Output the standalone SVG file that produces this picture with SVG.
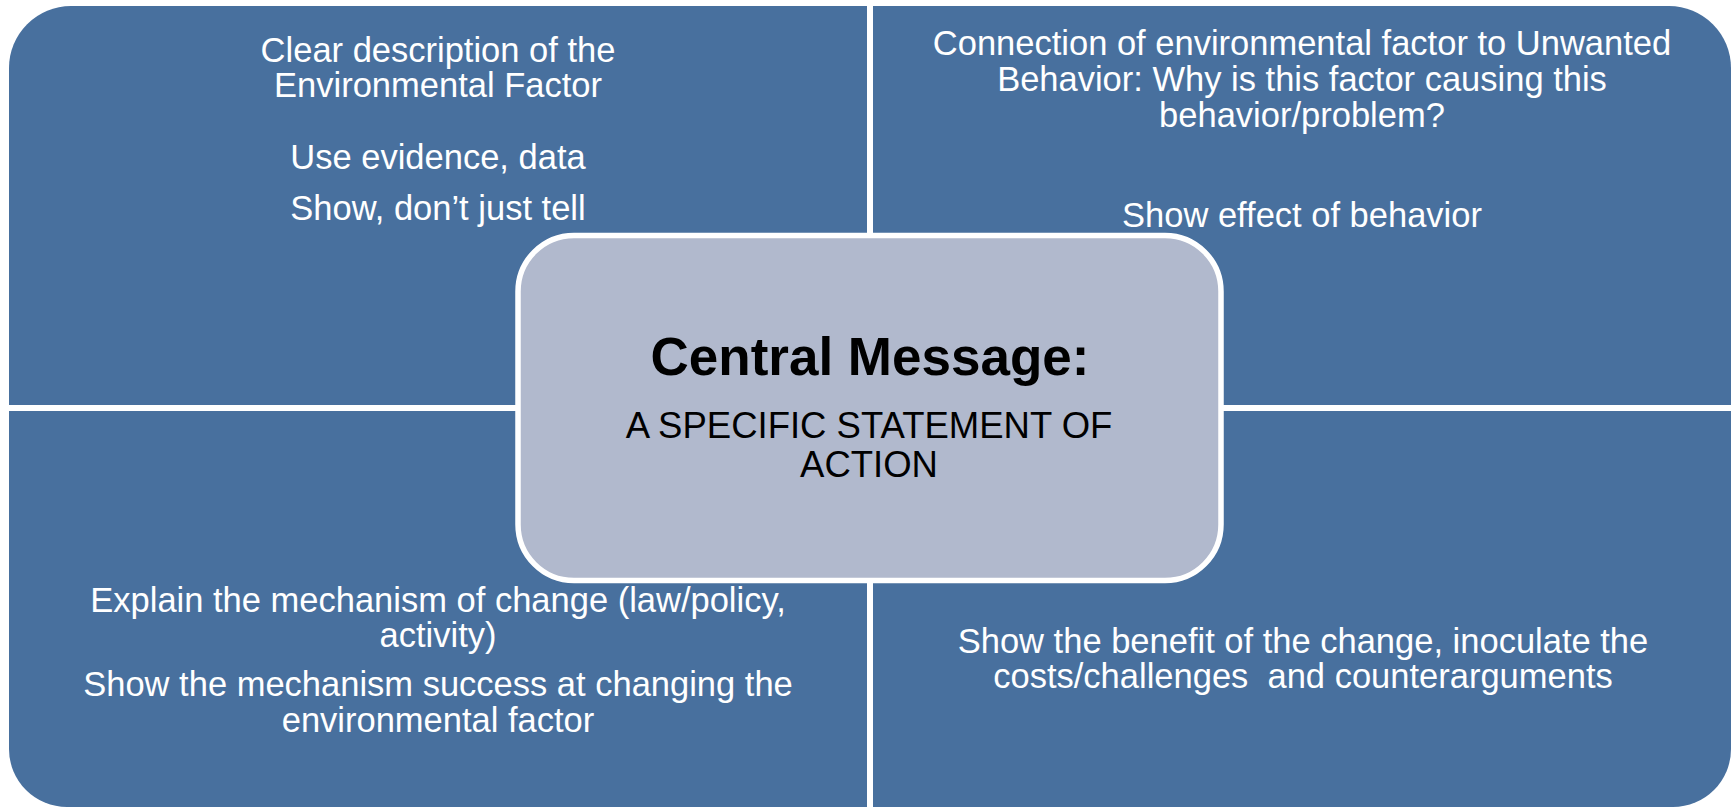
<svg xmlns="http://www.w3.org/2000/svg" width="1734" height="808" viewBox="0 0 1734 808">
  <style>
    .quad { fill: #48709E; }
    .center { fill: #B1B9CD; stroke: #FFFFFF; stroke-width: 5.5; }
    .qt { font-family: "Liberation Sans", Arial, sans-serif; font-size: 34.5px; fill: #FFFFFF; text-anchor: middle; }
    .title { font-family: "Liberation Sans", Arial, sans-serif; font-size: 53px; font-weight: bold; fill: #000000; text-anchor: middle; }
    .sub { font-family: "Liberation Sans", Arial, sans-serif; font-size: 36.5px; fill: #000000; text-anchor: middle; }
  </style>
  <rect x="0" y="0" width="1734" height="808" fill="#FFFFFF"/>

  <g id="quadrant-top-left">
    <path class="quad" d="M9,68 A62,62 0 0 1 71,6 L867,6 L867,405 L9,405 Z"/>
    <text class="qt" x="438" y="62">Clear description of the</text>
    <text class="qt" x="438" y="97">Environmental Factor</text>
    <text class="qt" x="438" y="169">Use evidence, data</text>
    <text class="qt" x="438" y="220">Show, don’t just tell</text>
  </g>

  <g id="quadrant-top-right">
    <path class="quad" d="M873,6 L1669,6 A62,62 0 0 1 1731,68 L1731,405 L873,405 Z"/>
    <text class="qt" x="1302" y="55">Connection of environmental factor to Unwanted</text>
    <text class="qt" x="1302" y="91">Behavior: Why is this factor causing this</text>
    <text class="qt" x="1302" y="127">behavior/problem?</text>
    <text class="qt" x="1302" y="227">Show effect of behavior</text>
  </g>

  <g id="quadrant-bottom-left">
    <path class="quad" d="M9,411 L867,411 L867,807 L67,807 A58,58 0 0 1 9,749 Z"/>
    <text class="qt" x="438" y="612">Explain the mechanism of change (law/policy,</text>
    <text class="qt" x="438" y="647">activity)</text>
    <text class="qt" x="438" y="696">Show the mechanism success at changing the</text>
    <text class="qt" x="438" y="732">environmental factor</text>
  </g>

  <g id="quadrant-bottom-right">
    <path class="quad" d="M873,411 L1731,411 L1731,749 A58,58 0 0 1 1673,807 L873,807 Z"/>
    <text class="qt" x="1303" y="653">Show the benefit of the change, inoculate the</text>
    <text class="qt" x="1303" y="688" xml:space="preserve">costs/challenges  and counterarguments</text>
  </g>

  <g id="central-message">
    <rect class="center" x="518" y="235.5" width="703" height="345" rx="56" ry="56"/>
    <text class="title" x="870" y="375">Central Message:</text>
    <text class="sub" x="869" y="438">A SPECIFIC STATEMENT OF</text>
    <text class="sub" x="869" y="477">ACTION</text>
  </g>

  <g id="connectors"/>
</svg>
